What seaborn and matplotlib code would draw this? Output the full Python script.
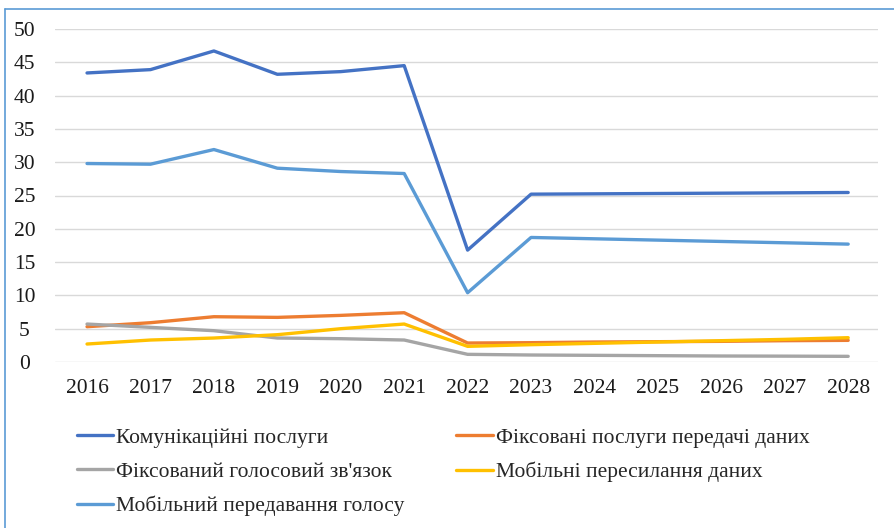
import matplotlib
matplotlib.use("Agg")
import matplotlib.pyplot as plt
import seaborn as sns
import pandas as pd
from matplotlib.lines import Line2D

years = [2016, 2017, 2018, 2019, 2020, 2021, 2022, 2023, 2024, 2025, 2026, 2027, 2028]
komunikatsiini = [43.4, 43.9, 46.7, 43.2, 43.6, 44.5, 16.8, 25.2, 25.25, 25.3, 25.35, 25.4, 25.45]
fiks_dani = [5.3, 5.9, 6.8, 6.7, 7.0, 7.4, 2.85, 2.9, 3.0, 3.05, 3.1, 3.2, 3.25]
fiks_golos = [5.7, 5.2, 4.7, 3.6, 3.5, 3.3, 1.15, 1.05, 1.0, 0.95, 0.9, 0.88, 0.85]
mob_dani = [2.7, 3.3, 3.6, 4.1, 5.0, 5.7, 2.35, 2.6, 2.8, 3.0, 3.2, 3.4, 3.65]
mob_golos = [29.8, 29.7, 31.9, 29.1, 28.6, 28.3, 10.4, 18.7, 18.5, 18.3, 18.1, 17.9, 17.7]

names = ["Комунікаційні послуги", "Фіксовані послуги передачі даних",
         "Фіксований голосовий зв'язок", "Мобільні пересилання даних",
         "Мобільний передавання голосу"]
series = [komunikatsiini, fiks_dani, fiks_golos, mob_dani, mob_golos]
colors = ["#4472C4", "#ED7D31", "#A5A5A5", "#FFC000", "#5B9BD5"]

rows = []
for n, s in zip(names, series):
    for y, v in zip(years, s):
        rows.append({"year": y, "value": v, "series": n})
df = pd.DataFrame(rows)

sns.set_theme(style="white")
plt.rcParams["font.family"] = ["Liberation Serif", "DejaVu Serif"]

fig = plt.figure(figsize=(8.94, 5.28), dpi=100)
ax = fig.add_axes([55/894, 1 - 362/528, (878-55)/894, (362-29)/528])

sns.lineplot(data=df, x="year", y="value", hue="series", hue_order=names,
             palette=colors, linewidth=2.4, ax=ax, legend=False, sort=False)

ax.set_xlim(2015.495, 2028.47)
ax.set_ylim(0, 50)
ax.set_yticks(range(0, 51, 5))
ax.set_xticks(years)
ax.set_xticklabels([str(y) for y in years])
ax.set_xlabel("")
ax.set_ylabel("")
ax.grid(axis="y", color="#D9D9D9", linewidth=1.0)
ax.set_axisbelow(True)
for sp in ax.spines.values():
    sp.set_visible(False)
ax.tick_params(axis="both", labelsize=15.5, colors="#1a1a1a", length=0)
ax.tick_params(axis="y", pad=22)
ax.tick_params(axis="x", pad=12)
for lbl in ax.get_yticklabels():
    lbl.set_horizontalalignment("center")

handles = [Line2D([0], [0], color=c, lw=2.4) for c in colors]
order = [0, 2, 4, 1, 3]
fig.legend([handles[i] for i in order], [names[i] for i in order],
           loc="upper left", bbox_to_anchor=(68/894, 1 - 419/528), ncol=2,
           frameon=False, fontsize=15.5, handlelength=1.7, handletextpad=0.15,
           columnspacing=2.4, labelspacing=0.65, borderaxespad=0)

# outer frame
fig.add_artist(Line2D([5/894, 5/894], [0, 1 - 9/528], transform=fig.transFigure,
                      color="#5B9BD5", lw=1.2))
fig.add_artist(Line2D([5/894, 1], [1 - 9/528, 1 - 9/528], transform=fig.transFigure,
                      color="#5B9BD5", lw=1.2))

fig.savefig("out.png", dpi=100)
